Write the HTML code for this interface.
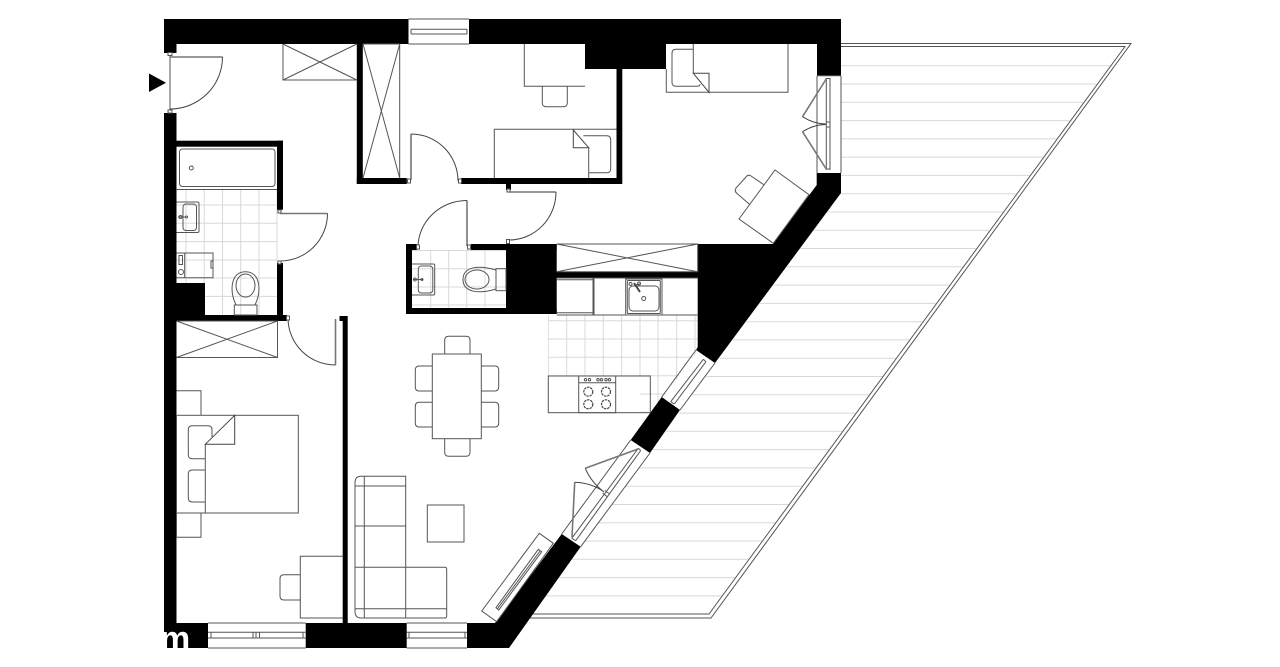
<!DOCTYPE html>
<html><head><meta charset="utf-8"><style>
html,body{margin:0;padding:0;background:#fff;width:1280px;height:667px;overflow:hidden}
svg{display:block}
.l{fill:none;stroke:#555;stroke-width:1}
.d{fill:none;stroke:#444;stroke-width:1}
.t{stroke:#d8d8d8;stroke-width:1;fill:none}
.f{fill:#fff;stroke:#555;stroke-width:1}
.g{fill:none;stroke:#777;stroke-width:1.6}
</style></head><body>
<svg width="1280" height="667" viewBox="0 0 1280 667" xmlns="http://www.w3.org/2000/svg">
<defs>
<clipPath id="ter"><polygon points="841,46.5 1124,46.5 709,613.5 532,613.5 841,193"/></clipPath>
<clipPath id="kt"><polygon points="548,315 698,315 698,350 632,440 548,440"/></clipPath>
</defs>

<!-- terrace -->
<g clip-path="url(#ter)" class="t">
<path d="M500 65.7H1130M500 84H1130M500 102.3H1130M500 120.6H1130M500 138.9H1130M500 157.1H1130M500 175.4H1130M500 193.7H1130M500 212H1130M500 230.3H1130M500 248.5H1130M500 266.8H1130M500 285.1H1130M500 303.4H1130M500 321.7H1130M500 339.9H1130M500 358.2H1130M500 376.5H1130M500 394.8H1130M500 413.1H1130M500 431.3H1130M500 449.6H1130M500 467.9H1130M500 486.2H1130M500 504.5H1130M500 522.7H1130M500 541H1130M500 559.3H1130M500 577.6H1130M500 595.9H1130"/>
</g>
<path class="l" d="M841 43.5H1131L711 618H525M841 46.5H1125L709 614H530" stroke-width="1"/>

<!-- tiles -->
<path class="t" d="M186 190V315M204.2 190V315M222.5 190V315M240.7 190V315M259 190V315M277 190V262M176 205H277M176 223.3H277M176 241.6H277M176 260H277M176 278H277M205 296.4H277"/>
<path class="t" d="M430.7 250V308M448.7 250V308M466.7 250V308M485 250V308M412 250.5H506M412 268.7H506M412 287H506M412 305H506"/>
<g clip-path="url(#kt)"><path class="t" d="M548.3 315V376M566.7 315V376M585 315V376M603.3 315V376M621.7 315V376M640 315V376M658 315V412M676.7 315V412M695 315V412M548 320.7H698M548 339H698M548 357.3H698M548 375.7H698M640 394H698M640 412.3H698"/></g>

<!-- walls -->
<g fill="#000">
<rect x="164" y="19" width="244.5" height="25"/>
<rect x="469" y="19" width="372" height="25"/>
<rect x="164" y="19" width="12.5" height="34"/>
<rect x="164" y="113" width="12.5" height="535"/>
<rect x="585" y="40" width="81" height="29"/>
<rect x="616.5" y="68" width="5.8" height="116"/>
<rect x="461" y="178" width="161" height="6"/>
<rect x="506" y="184" width="5" height="6"/>
<rect x="356.8" y="44" width="6" height="140"/>
<rect x="356.8" y="178" width="50" height="6"/>
<rect x="176" y="140.7" width="107" height="6"/>
<rect x="277" y="140.7" width="6" height="69"/>
<rect x="277" y="263" width="6" height="58"/>
<rect x="176" y="315" width="111" height="6"/>
<rect x="176" y="283" width="29" height="33"/>
<rect x="342.7" y="316" width="5" height="307"/>
<rect x="339.5" y="316" width="8" height="5"/>
<rect x="164" y="623" width="44" height="25"/>
<rect x="305.7" y="623" width="101" height="25"/>
<polygon points="467,623 495,623 561.7,534 580.7,546.7 509,648 467,648"/>
<polygon points="661.7,397 680,410 650,453 630.7,440"/>
<polygon points="697.7,244 773,244 816.7,185 816.7,173 841,173 841,193 715,363 696,350 697.7,347"/>
<rect x="817" y="30" width="24" height="45.7"/>
<rect x="406" y="244" width="6" height="70"/>
<rect x="406" y="308" width="142.3" height="6"/>
<rect x="406" y="244" width="11" height="6"/>
<rect x="471" y="244" width="85.7" height="6"/>
<rect x="506" y="244" width="50.7" height="70"/>
<rect x="548.3" y="309" width="8.4" height="5"/>
<rect x="556" y="271.7" width="142" height="6.3"/>
</g>

<!-- windows -->
<path class="l" d="M408.5 19H469M408.5 44H469M411 29.3H467M411 34H467M411 29.3V34M467 29.3V34"/>
<path class="l" d="M208 623H305.7M208 648H305.7M208 632.3H305.7M208 638H305.7M211 632.3V638M253 632.3V638M256 632.3V638M259.5 632.3V638M303 632.3V638"/>
<path class="l" d="M406.7 623H467M406.7 648H467M406.7 632.3H467M406.7 638H467M409 632.3V638M465 632.3V638"/>
<path class="l" d="M817 75.7V173M841 75.7V173M817 75.7H841M826.3 78V170M830 78V170M826.3 78.5H830M826.3 169H830M826.3 122H830M826.3 127H830"/>
<path class="g" d="M826.5 78.5L802.5 116.7M826.5 169.5L802.5 131.7"/>
<path class="d" d="M802.5 116.7Q814 124 826 124M802.5 131.7Q814 124.5 826 124.5"/>

<!-- diagonal windows -->
<path class="l" d="M561.7 534L630.7 440M580.7 546.7L650 453M571.7 538.3L638.3 448.3M575.7 540.7L640.7 450.5M571.7 538.3L575.7 540.7M638.3 448.3L640.7 450.5M602.5 493L607 496.5M604.8 490.5L609 493.5"/>
<path class="g" d="M572 537L574.7 482.3M638 449L585.3 468.3"/>
<path class="d" d="M574.7 482.3Q592 483 604 492M585.3 468.3Q591 482 604 492"/>
<path class="l" d="M661.7 397L696 350M680 410L715 363M670.7 401.7L703.3 359.3M674.3 404L706 361.7M670.7 401.7L674.3 404M703.3 359.3L706 361.7"/>

<!-- entry door + doors -->
<polygon points="149,73.5 149,92 166,82.7" fill="#000"/>
<path class="l" d="M170 53V110"/>
<path class="g" d="M170 57H222.5"/>
<path class="d" d="M222.5 57A52.5 52 0 0 1 170 109"/>
<path class="g" d="M280 213.5H327.5"/>
<path class="d" d="M327.5 213.5A47.5 47.5 0 0 1 280 261"/>
<path class="g" d="M335.5 319V365"/>
<path class="d" d="M335.5 365A47.5 47 0 0 1 288 318"/>
<path class="g" d="M411 134V180"/>
<path class="d" d="M411 134A47 47 0 0 1 458 181"/>
<path class="g" d="M509 192H556"/>
<path class="d" d="M556 192A47 48 0 0 1 509 240"/>
<path class="g" d="M467 200.5V246"/>
<path class="d" d="M467 200.5A49 47 0 0 0 418 247"/>
<g class="f"><rect x="168" y="52.5" width="4" height="3"/><rect x="168" y="110" width="4" height="3"/><rect x="278" y="210" width="3" height="3"/><rect x="278" y="261" width="3" height="3"/><rect x="286.5" y="316" width="3" height="4"/><rect x="407.5" y="179" width="3" height="4"/><rect x="458.5" y="179" width="3" height="4"/><rect x="507" y="189" width="3" height="3"/><rect x="506.5" y="239.5" width="3" height="4"/><rect x="416.5" y="245" width="3" height="4"/><rect x="467.5" y="245" width="3" height="4"/></g>

<!-- wardrobes -->
<path class="l" d="M283 44V80H356.8M283 44L356.8 80M283 80L356.8 44"/>
<path class="l" d="M363 44H399.7V178M363 178L399.7 44M363 44L399.7 178"/>
<path class="l" d="M176.5 321H277.5V357.5H176.5M176.5 321L277.5 357.5M176.5 357.5L277.5 321"/>
<path class="l" d="M556.7 244H697.7V271.7H556.7M556.7 244L697.7 271.7M556.7 271.7L697.7 244"/>

<!-- bathroom 1 -->
<rect class="l" x="179.5" y="149" width="95.5" height="37.5" rx="3"/>
<path class="l" d="M176 189.5H277"/>
<circle class="l" cx="191.3" cy="168" r="2"/>
<path class="l" d="M176.5 202H197.5Q199 202 199 203.5V231Q199 232.5 197.5 232.5H176.5"/>
<rect class="l" x="183" y="204" width="13.5" height="26.5" rx="3"/>
<path class="l" d="M178 217H186M180.5 217m-1.5 0a1.5 1.5 0 1 0 3 0a1.5 1.5 0 1 0 -3 0M186.5 217m-1 0a1 1 0 1 0 2 0a1 1 0 1 0 -2 0"/>
<path class="l" d="M176.5 253H213V277.7H176.5M184.7 253V277.7"/>
<rect class="l" x="179" y="255.5" width="3.5" height="9"/>
<circle class="l" cx="181" cy="272" r="2.5"/>
<rect class="l" x="211" y="261" width="2" height="7"/>
<rect class="l" x="234.3" y="305" width="22.7" height="10"/>
<path class="l" d="M236 305C229 290 231 271.7 245.5 271.7C260 271.7 262 290 255 305"/>
<ellipse class="l" cx="245.5" cy="285.5" rx="9.5" ry="11.5"/>

<!-- wc 2 -->
<path class="l" d="M412 264H433.5Q434.7 264 434.7 265.2V293.8Q434.7 295 433.5 295H412"/>
<rect class="l" x="418.3" y="266" width="14.5" height="27" rx="3"/>
<path class="l" d="M413 279.5H423M415 279.5m-1.5 0a1.5 1.5 0 1 0 3 0a1.5 1.5 0 1 0 -3 0M422 279.5m-1 0a1 1 0 1 0 2 0a1 1 0 1 0 -2 0"/>
<rect class="l" x="496" y="268.7" width="10" height="22"/>
<path class="l" d="M496 270C480 265 463 266 463 279.5C463 293 480 294 496 289"/>
<ellipse class="l" cx="477" cy="279.5" rx="12" ry="9.5"/>

<!-- kitchen -->
<path class="l" d="M556.7 278H697.7M556.7 279.8H593M556.7 312.7H593M556.7 315H697.7M593 278V315M594 278V315"/>
<rect class="l" x="625.7" y="279" width="36.3" height="36"/>
<rect class="l" x="627.3" y="280.5" width="33" height="33" rx="1"/>
<rect class="l" x="629" y="286" width="30" height="25" rx="4"/>
<circle class="l" cx="643.7" cy="298.5" r="2"/>
<path d="M634 283L640 292" stroke="#444" stroke-width="2" fill="none"/>
<path class="l" d="M634 285L640 284"/>
<circle class="l" cx="630.5" cy="284" r="1.5"/><circle class="l" cx="639" cy="283.5" r="1.5"/>
<rect class="l" x="548.3" y="376" width="102" height="36.7" fill="#fff"/>
<rect class="l" x="578.7" y="376" width="37" height="36.7"/>
<path class="l" d="M578.7 382.7H615.7"/>
<g class="l"><circle cx="585.5" cy="379.7" r="1.2"/><circle cx="589.5" cy="379.7" r="1.2"/><circle cx="598" cy="379.7" r="1.2"/><circle cx="601.5" cy="379.7" r="1.2"/><circle cx="606" cy="379.7" r="1.2"/><circle cx="609.5" cy="379.7" r="1.2"/></g>
<g fill="none" stroke="#444" stroke-width="1.2" stroke-dasharray="2.5 .8"><circle cx="588.3" cy="391.7" r="4.5"/><circle cx="606" cy="391.7" r="4.5"/><circle cx="588.3" cy="404.3" r="4.5"/><circle cx="606" cy="404.3" r="4.5"/></g>

<!-- dining -->
<rect class="l" x="432.3" y="354" width="49" height="84.7"/>
<path class="l" d="M444.7 354V340.3Q444.7 336.3 448.7 336.3H466Q470 336.3 470 340.3V354"/>
<path class="l" d="M444.7 438.7V452.3Q444.7 456.3 448.7 456.3H466Q470 456.3 470 452.3V438.7"/>
<path class="l" d="M432.3 366H419.3Q415.3 366 415.3 370V387Q415.3 391 419.3 391H432.3M432.3 402.3H419.3Q415.3 402.3 415.3 406.3V423Q415.3 427 419.3 427H432.3"/>
<path class="l" d="M481.3 366H494.7Q498.7 366 498.7 370V387Q498.7 391 494.7 391H481.3M481.3 402.3H494.7Q498.7 402.3 498.7 406.3V423Q498.7 427 494.7 427H481.3"/>

<!-- living -->
<rect class="l" x="427.3" y="505" width="36.7" height="37"/>
<path class="l" d="M405.7 486V476.3H361Q355 476.3 355 483V611Q355 618 361 618H444.7Q446.7 618 446.7 616V569.3Q446.7 567.3 444.7 567.3H405.7M405.7 476.3V618M364.3 476.3V618M355 486H405.7M355 526H405.7M355 567.3H405.7M355 608.7H446.7"/>
<polygon class="l" points="539.3,533.3 553.3,543.3 496.7,621.7 481.7,611"/>
<polygon class="l" points="538.3,549.3 541.7,551.7 498.7,610 496,607.7"/>
<path class="l" d="M540 551L497.5 608.7"/>

<!-- bedroom master -->
<rect class="l" x="176.5" y="415.3" width="121.8" height="97.7"/>
<path class="l" d="M176.5 390.7H201V415.3M176.5 513V537.3H201V513"/>
<path class="l" d="M205.3 444.3V513"/>
<path class="l" d="M205.3 458.7H192.3Q188.3 458.7 188.3 454.7V429.7Q188.3 425.7 192.3 425.7H208Q212 425.7 212 429.7V437"/>
<path class="l" d="M205.3 470H192.3Q188.3 470 188.3 474V498Q188.3 502 192.3 502H205.3"/>
<polygon points="205.3,444.3 234.7,415.3 234.7,444.3" fill="#fff" stroke="#444"/>
<path class="l" d="M342.7 556.3H300.3V618H342.7M300.3 574.7H284Q280 574.7 280 578.7V596Q280 600 284 600H300.3"/>

<!-- bedroom 2 -->
<path class="l" d="M524.3 44V86.3H585M542.3 86.3V102.7Q542.3 106.7 546.3 106.7H563.3Q567.3 106.7 567.3 102.7V86.3"/>
<path class="l" d="M494.3 178V129.3H616.5"/>
<path class="l" d="M583.3 135.7H606.7Q610.7 135.7 610.7 139.7V168.7Q610.7 172.7 606.7 172.7H588.7"/>
<polygon points="573.3,130 588.7,147.7 573.3,147.7" fill="#fff" stroke="#444"/>
<path class="l" d="M588.7 147.7V178"/>

<!-- bedroom 3 -->
<path class="l" d="M666.3 69V92.3H788V44M693.3 44V73.3"/>
<path class="l" d="M693.3 49.3H676Q672 49.3 672 53.3V82.3Q672 86.3 676 86.3H697Q700 86.3 700 84"/>
<polygon points="693.3,73.3 709,92.3 709,73.3" fill="#fff" stroke="#444"/>
<polygon class="l" points="775,170 809,194.7 773.3,243.3 739,219"/>
<path class="l" d="M764.3 185L751 176Q748.3 174 746 177L736 188Q734 191 737 193.5L750 204.7"/>

<text x="160" y="650" font-family="'Liberation Sans',sans-serif" font-weight="700" font-size="34" fill="#fff">m</text>
</svg>
</body></html>
